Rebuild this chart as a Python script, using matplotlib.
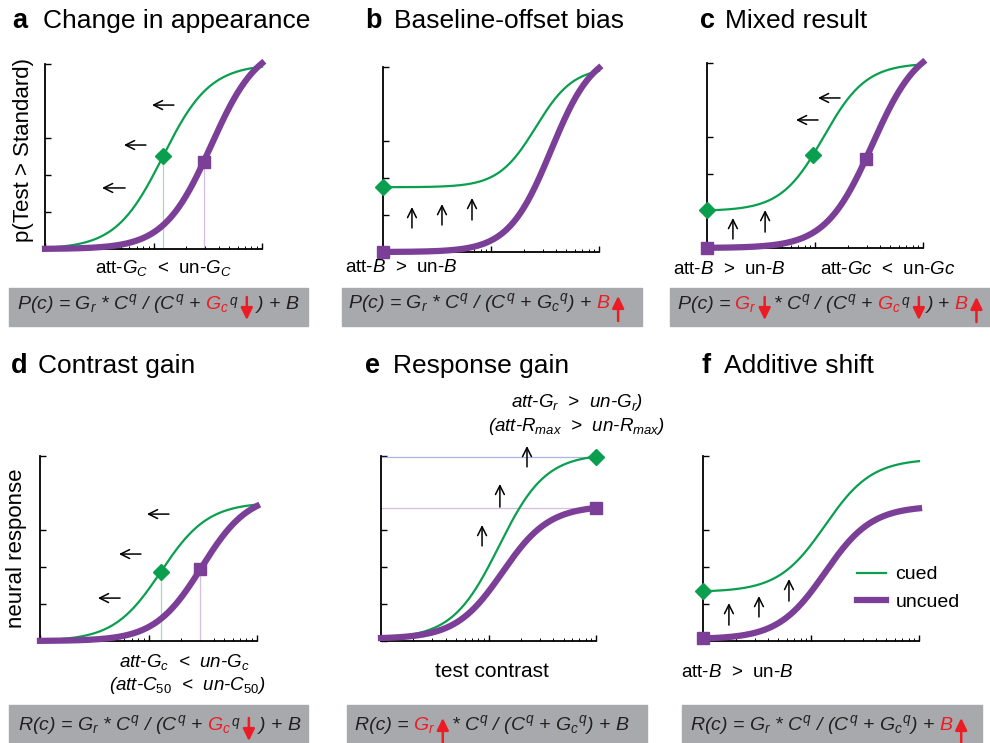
import numpy as np
import matplotlib
matplotlib.use('Agg')
import matplotlib.pyplot as plt
from matplotlib.patches import Rectangle, FancyArrowPatch
from matplotlib.ticker import LogLocator, NullFormatter

plt.rcParams['font.family'] = ['Liberation Sans', 'DejaVu Sans']
plt.rcParams['mathtext.fontset'] = 'custom'
plt.rcParams['mathtext.rm'] = 'Liberation Sans'
plt.rcParams['mathtext.it'] = 'Liberation Sans:italic'
plt.rcParams['mathtext.bf'] = 'Liberation Sans:bold'

GREEN = '#0a9f4f'
PURPLE = '#7b3f98'
RED = '#ec1c24'
BOX = '#a7a9ac'
LIGHT_GREEN = '#a6dcbd'
LIGHT_PURPLE = '#d6bce2'
LIGHT_BLUE = '#aab6e2'

W, H = 990, 743

# test contrast axis (log, 1..100) and y ticks
c_min, c_max = 1, 100
yticks = [0, 0.2, 0.4, 0.6, 1.0]

# Naka-Rushton parameters: [Gr, Gc, q, B]
a_cued = [1.0, 12.2, 2.0, 0.0]
a_uncued = [1.12, 34.0, 2.0, 0.0]
b_cued = [0.65, 26.0, 2.5, 0.35]
b_uncued = [1.1, 36.0, 2.2, 0.0]
c_cued = [0.8, 12.0, 2.2, 0.2]
c_uncued = [1.12, 34.0, 2.0, 0.0]
d_cued = [0.75, 13.0, 2.0, 0.0]
d_uncued = [0.8, 31.0, 2.0, 0.0]
e_cued = [1.0, 12.5, 2.0, 0.012]
e_uncued = [0.72, 13.5, 2.0, 0.012]
f_cued = [0.72, 13.5, 2.0, 0.265]
f_uncued = [0.72, 13.5, 2.0, 0.01]

# contrast where the markers sit (cued diamond, uncued square)
a_marks = [12.2, 29.0]
b_marks = [1, 1]
c_marks = [9.6, 29.4]
d_marks = [13.0, 30.0]
e_marks = [100, 100]
f_marks = [1, 1]

contrast = np.logspace(np.log10(c_min), np.log10(c_max), 300)


def nr(p, c):
    gr, gc, q, b = p
    c = np.asarray(c, dtype=float)
    return gr * c**q / (c**q + gc**q) + b


fig = plt.figure(figsize=(W / 100, H / 100), dpi=100)
renderer = fig.canvas.get_renderer()


def ftext(x, y, s, **kw):
    return fig.text(x / W, 1 - y / H, s, **kw)


def make_ax(l, r, t, b):
    ax = fig.add_axes([l / W, 1 - b / H, (r - l) / W, (b - t) / H])
    ax.set_xscale('log')
    ax.set_xlim(c_min, c_max)
    ax.set_ylim(0, 1)
    ax.set_xticks([1, 10, 100])
    ax.xaxis.set_minor_locator(LogLocator(subs=range(2, 10)))
    ax.xaxis.set_minor_formatter(NullFormatter())
    ax.set_xticklabels([])
    ax.set_yticks(yticks)
    ax.set_yticklabels([])
    ax.tick_params(which='major', direction='in', length=4, width=1)
    ax.tick_params(which='minor', direction='in', length=2.5, width=0.7)
    ax.spines[['top', 'right']].set_visible(False)
    ax.spines[['left', 'bottom']].set_linewidth(1.3)
    ax.patch.set_alpha(0)
    return ax


def curves(ax, cued, uncued):
    g, = ax.plot(contrast, nr(cued, contrast), color=GREEN, lw=1.6,
                 clip_on=False, zorder=3, label='cued')
    p, = ax.plot(contrast, nr(uncued, contrast), color=PURPLE, lw=4.5,
                 clip_on=False, zorder=3, label='uncued')
    return g, p


def marks(ax, xs, cued, uncued):
    ax.plot([xs[0]], [nr(cued, xs[0])], 'D', color=GREEN, ms=8,
            clip_on=False, zorder=5)
    ax.plot([xs[1]], [nr(uncued, xs[1])], 's', color=PURPLE, ms=8,
            clip_on=False, zorder=5)


def arrows(ax, items):
    for tail, tip in items:
        ax.annotate('', xy=tip, xytext=tail, xycoords='axes fraction',
                    textcoords='axes fraction',
                    arrowprops=dict(arrowstyle='->,head_length=0.4,head_width=0.2',
                                    lw=1.1, color='k', mutation_scale=16,
                                    shrinkA=0, shrinkB=0))


def formula(box, x0, yb, parts, size=14):
    bx0, by0, bx1, by1 = box
    fig.add_artist(Rectangle((bx0 / W, 1 - by1 / H), (bx1 - bx0) / W,
                             (by1 - by0) / H, transform=fig.transFigure,
                             color=BOX, zorder=0))
    x = x0
    for part in parts:
        if isinstance(part, (int, float)):
            x += part
            continue
        if part in ('up', 'down'):
            cx = x + 8
            if part == 'down':
                ya, yb2 = yb - 12, yb + 11
            else:
                ya, yb2 = yb + 13, yb - 12
            fig.add_artist(FancyArrowPatch(
                (cx / W, 1 - ya / H), (cx / W, 1 - yb2 / H),
                transform=fig.transFigure,
                arrowstyle='-|>,head_length=0.45,head_width=0.22',
                mutation_scale=16, lw=1.8, color=RED,
                shrinkA=0, shrinkB=0, zorder=4))
            x += 16
            continue
        s, col = part
        t = ftext(x, yb, s, color=col, fontsize=size, fontstyle='italic',
                  va='baseline', zorder=3)
        x = t.get_window_extent(renderer).x1


# a: change in appearance
ax = make_ax(45, 262, 64, 249)
for xm, p, col in zip(a_marks, [a_cued, a_uncued], [LIGHT_GREEN, LIGHT_PURPLE]):
    ax.plot([xm, xm], [0, nr(p, xm)], color=col, lw=0.9, zorder=2)
curves(ax, a_cued, a_uncued)
marks(ax, a_marks, a_cued, a_uncued)
arrows(ax, [((0.594, 0.778), (0.493, 0.778)),
            ((0.465, 0.562), (0.364, 0.562)),
            ((0.369, 0.33), (0.263, 0.33))])

# b: baseline-offset bias
ax = make_ax(383, 599, 67, 252)
curves(ax, b_cued, b_uncued)
marks(ax, b_marks, b_cued, b_uncued)
arrows(ax, [((0.134, 0.13), (0.134, 0.243)),
            ((0.273, 0.146), (0.273, 0.259)),
            ((0.412, 0.173), (0.412, 0.292))])

# c: mixed result
ax = make_ax(707, 923, 63, 248)
curves(ax, c_cued, c_uncued)
marks(ax, c_marks, c_cued, c_uncued)
marks(ax, [c_min, c_min], c_cued, c_uncued)
arrows(ax, [((0.616, 0.811), (0.514, 0.811)),
            ((0.514, 0.692), (0.412, 0.692)),
            ((0.12, 0.049), (0.12, 0.162)),
            ((0.269, 0.086), (0.269, 0.205))])

# d: contrast gain
ax = make_ax(40, 257, 456, 641)
for xm, p, col in zip(d_marks, [d_cued, d_uncued], [LIGHT_GREEN, LIGHT_PURPLE]):
    ax.plot([xm, xm], [0, nr(p, xm)], color=col, lw=0.9, zorder=2)
curves(ax, d_cued, d_uncued)
marks(ax, d_marks, d_cued, d_uncued)
arrows(ax, [((0.594, 0.686), (0.493, 0.686)),
            ((0.465, 0.47), (0.364, 0.47)),
            ((0.369, 0.232), (0.267, 0.232))])

# e: response gain
ax = make_ax(381, 596, 456, 641)
for p, col in zip([e_cued, e_uncued], [LIGHT_BLUE, LIGHT_PURPLE]):
    lvl = nr(p, c_max)
    ax.plot([c_min, c_max], [lvl, lvl], color=col, lw=0.9, zorder=2,
            clip_on=False)
curves(ax, e_cued, e_uncued)
marks(ax, e_marks, e_cued, e_uncued)
arrows(ax, [((0.679, 0.941), (0.679, 1.054)),
            ((0.553, 0.724), (0.553, 0.849)),
            ((0.47, 0.514), (0.47, 0.627))])

# f: additive shift
ax = make_ax(703, 919, 456, 641)
g, p = curves(ax, f_cued, f_uncued)
marks(ax, f_marks, f_cued, f_uncued)
arrows(ax, [((0.12, 0.086), (0.12, 0.205)),
            ((0.259, 0.13), (0.259, 0.243)),
            ((0.398, 0.216), (0.398, 0.335))])
ax.legend(handles=[g, p], loc='center left', bbox_to_anchor=(0.715, 0.285),
          frameon=False, fontsize=14, handlelength=1.45, handletextpad=0.5,
          labelspacing=0.5, borderpad=0, borderaxespad=0)

# titles
titles = [('a', 'Change in appearance', 12, 43, 28),
          ('b', 'Baseline-offset bias', 365, 394, 28),
          ('c', 'Mixed result', 700, 725, 28),
          ('d', 'Contrast gain', 11, 38, 373),
          ('e', 'Response gain', 365, 393, 373),
          ('f', 'Additive shift', 702, 724, 373)]
for letter, name, xl, xt, yb in titles:
    ftext(xl, yb, letter, fontsize=19.5, fontweight='bold', va='baseline')
    ftext(xt, yb, name, fontsize=19, va='baseline')

# axis labels
ftext(24, 150, 'p(Test > Standard)', fontsize=16, rotation=90,
      ha='center', va='center')
ftext(17, 548, 'neural response', fontsize=16, rotation=90,
      ha='center', va='center')
ftext(492, 677, 'test contrast', fontsize=15, ha='center', va='baseline')

# condition labels
ftext(163, 273, 'att-$G_C$  <  un-$G_C$', fontsize=13.5, ha='center', va='baseline')
ftext(345, 272, 'att-$B$  >  un-$B$', fontsize=13.5, va='baseline')
ftext(673, 274, 'att-$B$  >  un-$B$', fontsize=13.5, va='baseline')
ftext(820, 274, 'att-$Gc$  <  un-$Gc$', fontsize=13.5, va='baseline')
ftext(184, 667, 'att-$G_c$  <  un-$G_c$', fontsize=13.5, fontstyle='italic',
      ha='center', va='baseline')
ftext(187, 690, '(att-$C_{50}$  <  un-$C_{50}$)', fontsize=13.5,
      fontstyle='italic', ha='center', va='baseline')
ftext(577, 407, 'att-$G_r$  >  un-$G_r$)', fontsize=13.5, fontstyle='italic',
      ha='center', va='baseline')
ftext(577, 431, '(att-$R_{max}$  >  un-$R_{max}$)', fontsize=13.5,
      fontstyle='italic', ha='center', va='baseline')
ftext(681, 677, 'att-$B$  >  un-$B$', fontsize=13.5, va='baseline')

# formula boxes
k = '#231f20'
formula((9, 288, 308, 326), 17, 309,
        [('P(c) = $G_r$ * $C^q$ / ($C^q$ +', k), 4, ('$G_c$', RED),
         ('${}^q$', k), 'down', (') + $B$', k)])
formula((342, 288, 642, 326), 348, 308,
        [('P(c) = $G_r$ * $C^q$ / ($C^q$ + $G_c{}^q$) +', k), 4,
         ('$B$', RED), 'up'])
formula((670, 288, 990, 326), 678, 309,
        [('P(c) =', k), 4, ('$G_r$', RED), 'down', ('* $C^q$ / ($C^q$ +', k),
         4, ('$G_c$', RED), ('${}^q$', k), 'down', (') +', k), 4,
         ('$B$', RED), 'up'])
formula((9, 705, 308, 743), 18, 730,
        [('R(c) = $G_r$ * $C^q$ / ($C^q$ +', k), 4, ('$G_c$', RED),
         ('${}^q$', k), 'down', (') + $B$', k)])
formula((347, 705, 647, 743), 355, 730,
        [('R(c) =', k), 4, ('$G_r$', RED), 'up',
         ('* $C^q$ / ($C^q$ + $G_c{}^q$) + $B$', k)])
formula((682, 705, 982, 743), 690, 730,
        [('R(c) = $G_r$ * $C^q$ / ($C^q$ + $G_c{}^q$) +', k), 4,
         ('$B$', RED), 'up'])

fig.savefig('out.png', dpi=100)
